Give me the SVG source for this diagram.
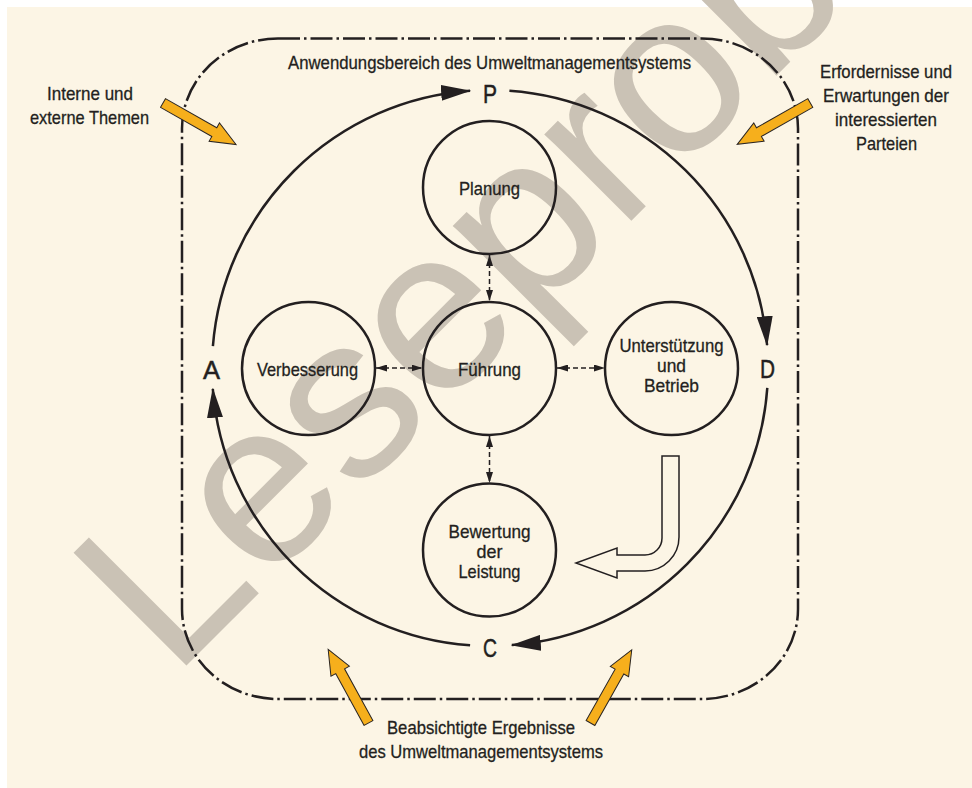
<svg xmlns="http://www.w3.org/2000/svg" width="972" height="788" viewBox="0 0 972 788">
  <style>
    .ink{fill:none;stroke:#231F20;stroke-width:2.5}
    .node circle{fill:none;stroke:#231F20;stroke-width:2.5}
    .t{font-family:"Liberation Sans",Arial,sans-serif;font-size:19px;fill:#231F20;stroke:#231F20;stroke-width:0.3;text-anchor:middle}
    .big{font-family:"Liberation Sans",Arial,sans-serif;font-size:26px;fill:#231F20;stroke:#231F20;stroke-width:0.5;text-anchor:middle}
    .dash{fill:none;stroke:#231F20;stroke-width:1.5;stroke-dasharray:5 3}
    .scope{fill:none;stroke:#231F20;stroke-width:2.5;stroke-dasharray:22 4 2.5 4}
    .orange{fill:#F6AF1C;stroke:#2A2522;stroke-width:1}
    .hollow{fill:#FCF5E5;stroke:#231F20;stroke-width:1.5}
  </style>
  <defs>
    <marker id="bigHead" markerUnits="userSpaceOnUse" markerWidth="30" markerHeight="16" viewBox="0 0 30 16" refX="29" refY="8" orient="auto">
      <path d="M0,0 L30,8 L0,16 Z" fill="#231F20"/>
    </marker>
    <marker id="smallHead" markerUnits="userSpaceOnUse" markerWidth="11" markerHeight="7" viewBox="0 0 11 7" refX="11" refY="3.5" orient="auto-start-reverse">
      <path d="M0,0 L11,3.5 L0,7 Z" fill="#231F20"/>
    </marker>
    <path id="oarrow" d="M0,-5 L59,-5 L59,-10.5 L84,0 L59,10.5 L59,5 L0,5 Z"/>
  </defs>

  <rect x="0" y="0" width="972" height="788" fill="#FFFFFF"/>
  <rect x="7" y="7" width="965" height="781" fill="#FCF5E5"/>

  <!-- watermark -->
  <text x="168" y="667" transform="rotate(-45 185 667)" font-family="'Liberation Sans',Arial,sans-serif" font-size="232" fill="#CAC2B5">Leseprobe</text>

  <!-- scope boundary -->
  <g id="scope">
    <rect class="scope" x="182" y="38.5" width="616" height="660.5" rx="96" ry="90"/>
    <text class="t" x="489.5" y="69" textLength="403" lengthAdjust="spacingAndGlyphs">Anwendungsbereich des Umweltmanagementsystems</text>
  </g>

  <!-- PDCA cycle connectors -->
  <g id="connectors">
    <path class="ink" marker-end="url(#bigHead)" d="M212.9,346.2 A278,278 0 0 1 470.1,90.7"/>
    <path class="ink" marker-end="url(#bigHead)" d="M509.4,90.7 A278,278 0 0 1 767.1,345.2"/>
    <path class="ink" marker-end="url(#bigHead)" d="M767.3,387.9 A278,278 0 0 1 511.8,645.1"/>
    <path class="ink" marker-end="url(#bigHead)" d="M470.1,645.3 A278,278 0 0 1 212.8,388.8"/>

    <path class="dash" marker-start="url(#smallHead)" marker-end="url(#smallHead)" d="M489.5,255 L489.5,301"/>
    <path class="dash" marker-start="url(#smallHead)" marker-end="url(#smallHead)" d="M489.5,436 L489.5,483"/>
    <path class="dash" marker-start="url(#smallHead)" marker-end="url(#smallHead)" d="M376,368 L422.5,368"/>
    <path class="dash" marker-start="url(#smallHead)" marker-end="url(#smallHead)" d="M557,368 L605,368"/>

    <path class="hollow" d="M662,456 L679,456 L679,537 A34,34 0 0 1 645,571 L617,571 L617,578 L576,563 L617,548 L617,555 L645,555 A17,17 0 0 0 662,538 Z"/>
  </g>

  <!-- PDCA letters -->
  <g id="pdca">
    <text class="big" x="490" y="103" textLength="14" lengthAdjust="spacingAndGlyphs">P</text>
    <text class="big" x="767.5" y="378" textLength="15" lengthAdjust="spacingAndGlyphs">D</text>
    <text class="big" x="490" y="657" textLength="14" lengthAdjust="spacingAndGlyphs">C</text>
    <text class="big" x="211.5" y="379" textLength="17" lengthAdjust="spacingAndGlyphs">A</text>
  </g>

  <!-- nodes -->
  <g id="planung" class="node">
    <circle cx="489.5" cy="187.5" r="66.5"/>
    <text class="t" x="489.5" y="195" textLength="61" lengthAdjust="spacingAndGlyphs">Planung</text>
  </g>
  <g id="fuehrung" class="node">
    <circle cx="489.5" cy="368.5" r="66.5"/>
    <text class="t" x="489.5" y="376" textLength="63" lengthAdjust="spacingAndGlyphs">Führung</text>
  </g>
  <g id="verbesserung" class="node">
    <circle cx="308.5" cy="368.5" r="66.5"/>
    <text class="t" x="307.5" y="376" textLength="101" lengthAdjust="spacingAndGlyphs">Verbesserung</text>
  </g>
  <g id="unterstuetzung" class="node">
    <circle cx="671.5" cy="368.5" r="66.5"/>
    <text class="t" x="671.5" y="352" textLength="104" lengthAdjust="spacingAndGlyphs">Unterstützung</text>
    <text class="t" x="671.5" y="372" textLength="29" lengthAdjust="spacingAndGlyphs">und</text>
    <text class="t" x="671.5" y="392" textLength="55" lengthAdjust="spacingAndGlyphs">Betrieb</text>
  </g>
  <g id="bewertung" class="node">
    <circle cx="489.5" cy="550" r="66.5"/>
    <text class="t" x="489.5" y="538" textLength="82" lengthAdjust="spacingAndGlyphs">Bewertung</text>
    <text class="t" x="489.5" y="558" textLength="26" lengthAdjust="spacingAndGlyphs">der</text>
    <text class="t" x="489.5" y="578" textLength="62" lengthAdjust="spacingAndGlyphs">Leistung</text>
  </g>

  <!-- external inputs -->
  <g id="interne-themen">
    <use href="#oarrow" class="orange" transform="translate(163 103) rotate(29.6)"/>
    <text class="t" x="90" y="100" textLength="86" lengthAdjust="spacingAndGlyphs">Interne und</text>
    <text class="t" x="89.5" y="124" textLength="119" lengthAdjust="spacingAndGlyphs">externe Themen</text>
  </g>
  <g id="erfordernisse">
    <use href="#oarrow" class="orange" transform="translate(810.3 103) rotate(150.5)"/>
    <text class="t" x="886" y="78" textLength="132" lengthAdjust="spacingAndGlyphs">Erfordernisse und</text>
    <text class="t" x="886" y="102" textLength="126" lengthAdjust="spacingAndGlyphs">Erwartungen der</text>
    <text class="t" x="886" y="126" textLength="102" lengthAdjust="spacingAndGlyphs">interessierten</text>
    <text class="t" x="886.5" y="150" textLength="61" lengthAdjust="spacingAndGlyphs">Parteien</text>
  </g>
  <g id="ergebnisse">
    <use href="#oarrow" class="orange" transform="translate(368.5 723) rotate(-118.7)"/>
    <use href="#oarrow" class="orange" transform="translate(590.5 723) rotate(-60.6)"/>
    <text class="t" x="481" y="734" textLength="188" lengthAdjust="spacingAndGlyphs">Beabsichtigte Ergebnisse</text>
    <text class="t" x="481" y="758" textLength="244" lengthAdjust="spacingAndGlyphs">des Umweltmanagementsystems</text>
  </g>
</svg>
